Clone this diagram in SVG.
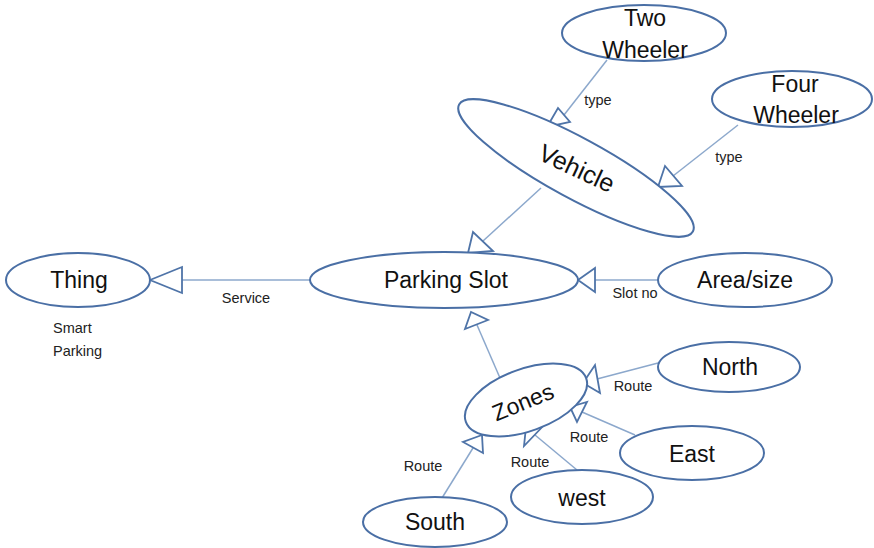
<svg xmlns="http://www.w3.org/2000/svg" width="874" height="548" viewBox="0 0 874 548">
  <style>
    .node ellipse { fill: #ffffff; stroke: #4a6fa5; stroke-width: 2; }
    .node text { font-family: "Liberation Sans", Arial, sans-serif; font-size: 23px; fill: #111111; text-anchor: middle; }
    .edge line { stroke: #8ca8cc; stroke-width: 1.5; }
    .edge polygon { fill: #ffffff; stroke: #4f74a8; stroke-width: 1.8; stroke-linejoin: miter; }
    .lbl { font-family: "Liberation Sans", Arial, sans-serif; font-size: 14.5px; fill: #222222; text-anchor: middle; }
  </style>
  <rect width="874" height="548" fill="#ffffff"/>

  <!-- connectors: hollow-triangle heads point at the target concept -->
  <g id="connectors" class="edge">
    <!-- Two Wheeler -> Vehicle -->
    <line x1="607" y1="60" x2="564" y2="115"/>
    <polygon points="547,127 558,108 570,122"/>
    <!-- Four Wheeler -> Vehicle -->
    <line x1="738" y1="125" x2="673" y2="176"/>
    <polygon points="658,187 665,166 682,186"/>
    <!-- Vehicle -> Parking Slot -->
    <line x1="541" y1="188" x2="483" y2="241"/>
    <polygon points="468,253 473,232 493,251"/>
    <!-- Parking Slot -> Thing -->
    <line x1="182" y1="280" x2="310" y2="280"/>
    <polygon points="150,280 182,267 182,293"/>
    <!-- Area/size -> Parking Slot -->
    <line x1="595" y1="280" x2="658" y2="280"/>
    <polygon points="578,280 595,268 595,292"/>
    <!-- Zones -> Parking Slot -->
    <line x1="500" y1="378" x2="477" y2="325"/>
    <polygon points="471,312 465,329 488,320"/>
    <!-- North -> Zones -->
    <line x1="658" y1="363" x2="597" y2="379"/>
    <polygon points="583,383 595,365 600,393"/>
    <!-- East -> Zones -->
    <line x1="635" y1="435" x2="582" y2="412"/>
    <polygon points="570,407 587,402 577,422"/>
    <!-- west -> Zones -->
    <line x1="577" y1="470" x2="535" y2="435"/>
    <polygon points="526,427 546,423 524,446"/>
    <!-- South -> Zones -->
    <line x1="442" y1="498" x2="473" y2="448"/>
    <polygon points="482,435 463,442 483,453"/>
  </g>

  <!-- connector labels -->
  <g id="labels">
    <text class="lbl" x="598" y="105">type</text>
    <text class="lbl" x="729" y="162">type</text>
    <text class="lbl" x="246" y="303">Service</text>
    <text class="lbl" x="635" y="298">Slot no</text>
    <text class="lbl" x="633" y="391">Route</text>
    <text class="lbl" x="589" y="442">Route</text>
    <text class="lbl" x="530" y="467">Route</text>
    <text class="lbl" x="423" y="471">Route</text>
    <text class="lbl" x="53" y="333" style="text-anchor:start">Smart</text>
    <text class="lbl" x="53" y="356" style="text-anchor:start">Parking</text>
  </g>

  <g id="two-wheeler" class="node">
    <ellipse cx="644" cy="33" rx="82" ry="28"/>
    <text x="645" y="26">Two</text>
    <text x="645" y="58">Wheeler</text>
  </g>

  <g id="four-wheeler" class="node">
    <ellipse cx="792" cy="99" rx="80" ry="28"/>
    <text x="795" y="92">Four</text>
    <text x="796" y="123">Wheeler</text>
  </g>

  <g id="vehicle" class="node">
    <ellipse cx="576" cy="168" rx="133" ry="30" transform="rotate(28.5 576 168)"/>
    <text x="577" y="177" style="font-size:25px" transform="rotate(25 577 168)">Vehicle</text>
  </g>

  <g id="parking-slot" class="node">
    <ellipse cx="444" cy="280" rx="134" ry="28"/>
    <text x="446" y="288">Parking Slot</text>
  </g>

  <g id="thing" class="node">
    <ellipse cx="78" cy="280" rx="72" ry="27"/>
    <text x="79" y="288">Thing</text>
  </g>

  <g id="area-size" class="node">
    <ellipse cx="745" cy="280" rx="87" ry="27"/>
    <text x="745" y="288">Area/size</text>
  </g>

  <g id="zones" class="node">
    <ellipse cx="526" cy="400" rx="64" ry="31" transform="rotate(-20 526 400)"/>
    <text x="523" y="410" transform="rotate(-22 523 402)">Zones</text>
  </g>

  <g id="north" class="node">
    <ellipse cx="729" cy="367" rx="71" ry="25"/>
    <text x="730" y="375">North</text>
  </g>

  <g id="east" class="node">
    <ellipse cx="692" cy="453" rx="72" ry="27"/>
    <text x="692" y="462">East</text>
  </g>

  <g id="west" class="node">
    <ellipse cx="582" cy="497" rx="71" ry="27"/>
    <text x="582" y="506">west</text>
  </g>

  <g id="south" class="node">
    <ellipse cx="435" cy="522" rx="72" ry="25"/>
    <text x="435" y="530">South</text>
  </g>
</svg>
